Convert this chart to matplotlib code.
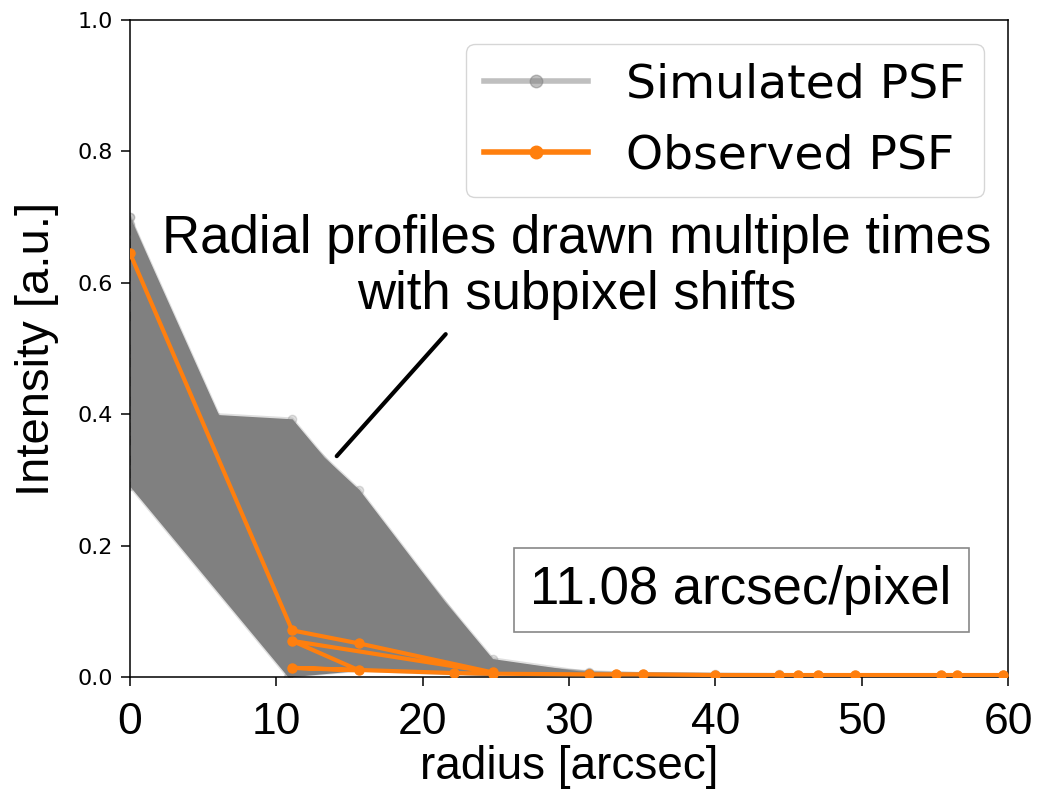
import matplotlib
matplotlib.use("Agg")
import matplotlib.pyplot as plt
import numpy as np
from matplotlib.lines import Line2D

plt.rcParams['font.family'] = ['DejaVu Sans']
BIG = ['Liberation Sans', 'DejaVu Sans']

# simulated PSF radial profiles (radius [arcsec], intensity)
sim_r = [
    [0, 5.6, 11.08, 24.78, 31.34, 39.95, 49.55, 59.67],
    [0, 5.5, 11.08, 15.67, 24.78, 31.34, 44.32, 59.67],
    [0, 5.5, 11.08, 15.67, 24.78, 33.24, 47.01, 59.67],
    [0, 5.6, 11.08, 15.67, 24.78, 35.04, 55.4],
    [0, 6.0, 11.08, 15.67, 22.16, 31.34, 45.68],
    [0, 6.4, 11.08, 15.67, 24.78, 31.34],
    [0, 7.0, 11.08, 15.67, 24.78],
    [0, 7.6, 11.08, 15.67, 22.16],
    [0, 5.6, 11.08, 15.67, 24.78],
    [0, 5.6, 11.08, 15.67, 24.78],
    [0, 6.2, 11.08, 15.67, 24.78],
    [0, 6.8, 11.08, 15.67, 24.78],
    [0, 7.4, 11.08, 15.67, 22.16],
    [0, 11.08, 15.67, 24.78, 31.34],
    [0, 11.08, 15.67, 22.16, 31.34],
    [0, 11.08, 15.67, 24.78],
    [0, 11.08, 15.67, 24.78],
    [0, 11.08, 15.67, 24.78],
    [0, 11.08, 15.67, 24.78],
    [0, 11.08, 15.67, 24.78],
    [0, 11.08, 15.67, 24.78],
    [0, 10.8, 15.67, 24.78],
    [0, 11.08, 15.67, 24.78],
    [0, 11.08, 15.67, 24.78],
    [0, 11.08, 15.67, 24.78],
]
sim_i = [
    [0.70, 0.40, 0.393, 0.028, 0.007, 0.004, 0.003, 0.003],
    [0.69, 0.395, 0.38, 0.285, 0.02, 0.006, 0.004, 0.003],
    [0.68, 0.39, 0.37, 0.27, 0.018, 0.005, 0.003, 0.003],
    [0.66, 0.385, 0.34, 0.25, 0.015, 0.005, 0.003],
    [0.64, 0.37, 0.30, 0.23, 0.03, 0.006, 0.003],
    [0.61, 0.36, 0.26, 0.20, 0.012, 0.005],
    [0.58, 0.35, 0.22, 0.17, 0.01],
    [0.55, 0.34, 0.18, 0.14, 0.008],
    [0.50, 0.39, 0.36, 0.26, 0.02],
    [0.45, 0.38, 0.33, 0.24, 0.018],
    [0.40, 0.37, 0.28, 0.22, 0.015],
    [0.36, 0.35, 0.24, 0.19, 0.012],
    [0.33, 0.33, 0.21, 0.16, 0.01],
    [0.70, 0.15, 0.12, 0.012, 0.005],
    [0.68, 0.10, 0.08, 0.01, 0.004],
    [0.66, 0.05, 0.04, 0.006],
    [0.62, 0.02, 0.02, 0.004],
    [0.55, 0.08, 0.06, 0.008],
    [0.48, 0.12, 0.10, 0.01],
    [0.42, 0.06, 0.05, 0.006],
    [0.36, 0.03, 0.03, 0.004],
    [0.29, 0.0, 0.01, 0.002],
    [0.31, 0.01, 0.02, 0.003],
    [0.33, 0.09, 0.08, 0.008],
    [0.38, 0.18, 0.15, 0.012],
]

# observed PSF, plotted in pixel order (hence the zigzag)
obs_r = [0, 11.08, 15.67, 24.78, 11.08, 15.67, 11.08, 22.16, 24.78, 31.34, 33.24, 35.04,
         39.95, 44.32, 45.68, 47.01, 49.55, 55.4, 56.5, 59.67]
obs_i = [0.645, 0.071, 0.051, 0.007, 0.055, 0.010, 0.014, 0.006, 0.005, 0.004, 0.004, 0.004,
         0.003, 0.003, 0.003, 0.003, 0.003, 0.003, 0.003, 0.003]

x_ticks = [0, 10, 20, 30, 40, 50, 60]
y_ticks = [0.0, 0.2, 0.4, 0.6, 0.8, 1.0]

fig = plt.figure(figsize=(10.38, 7.89), dpi=100)
ax = fig.add_axes([130 / 1038, 112 / 789, 878 / 1038, 657 / 789])

# the hundreds of overlapping grey curves merge into a solid band
grid = np.linspace(0, 60, 3000)
curves = np.array([np.interp(grid, r, v, right=np.nan) for r, v in zip(sim_r, sim_i)])
lo, hi = np.nanmin(curves, axis=0), np.nanmax(curves, axis=0)
ax.fill_between(grid, lo, hi, color='gray', lw=0, zorder=1)
for r, v in zip(sim_r, sim_i):
    ax.plot(r, v, '-o', color='gray', alpha=0.25, lw=2, ms=6, zorder=2)

ax.plot(obs_r, obs_i, '-o', color='#ff7f0e', lw=3, ms=6.5, zorder=3)

ax.set_xlim(0, 60)
ax.set_ylim(0, 1.0)
ax.set_xticks(x_ticks)
ax.set_xticklabels([str(t) for t in x_ticks], fontsize=32, family=BIG)
ax.set_yticks(y_ticks)
ax.set_yticklabels([f"{t:.1f}" for t in y_ticks], fontsize=16)
ax.tick_params(axis='x', length=6.5, width=1.1, pad=11.5)
ax.tick_params(axis='y', length=6.5, width=1.1, pad=6)
for s in ax.spines.values():
    s.set_linewidth(1.1)

ax.set_ylabel('Intensity [a.u.]', fontsize=34, family=BIG, labelpad=13)
ax.set_xlabel('radius [arcsec]', fontsize=33, family=BIG)
ax.xaxis.set_label_coords(0.5, -0.104)

handles = [
    Line2D([], [], color='gray', alpha=0.5, lw=4, marker='o', ms=9),
    Line2D([], [], color='#ff7f0e', lw=4, marker='o', ms=9),
]
ax.legend(handles, ['Simulated PSF', 'Observed PSF'], loc='upper right', fontsize=34,
          handlelength=2.2, labelspacing=0.55)

ax.annotate('', xy=(14.0, 0.333), xytext=(21.7, 0.525),
            arrowprops=dict(arrowstyle='-', lw=3, color='black'))
ax.text(30.55, 0.624, 'Radial profiles drawn multiple times\nwith subpixel shifts',
        fontsize=38, family=BIG, ha='center', va='center', linespacing=1.15)
ax.text(41.76, 0.132, '11.08 arcsec/pixel', fontsize=38, family=BIG, ha='center', va='center',
        bbox=dict(boxstyle='square,pad=0.32', fc='white', ec='#888888', lw=1.2))

fig.savefig('out.png', dpi=100)
